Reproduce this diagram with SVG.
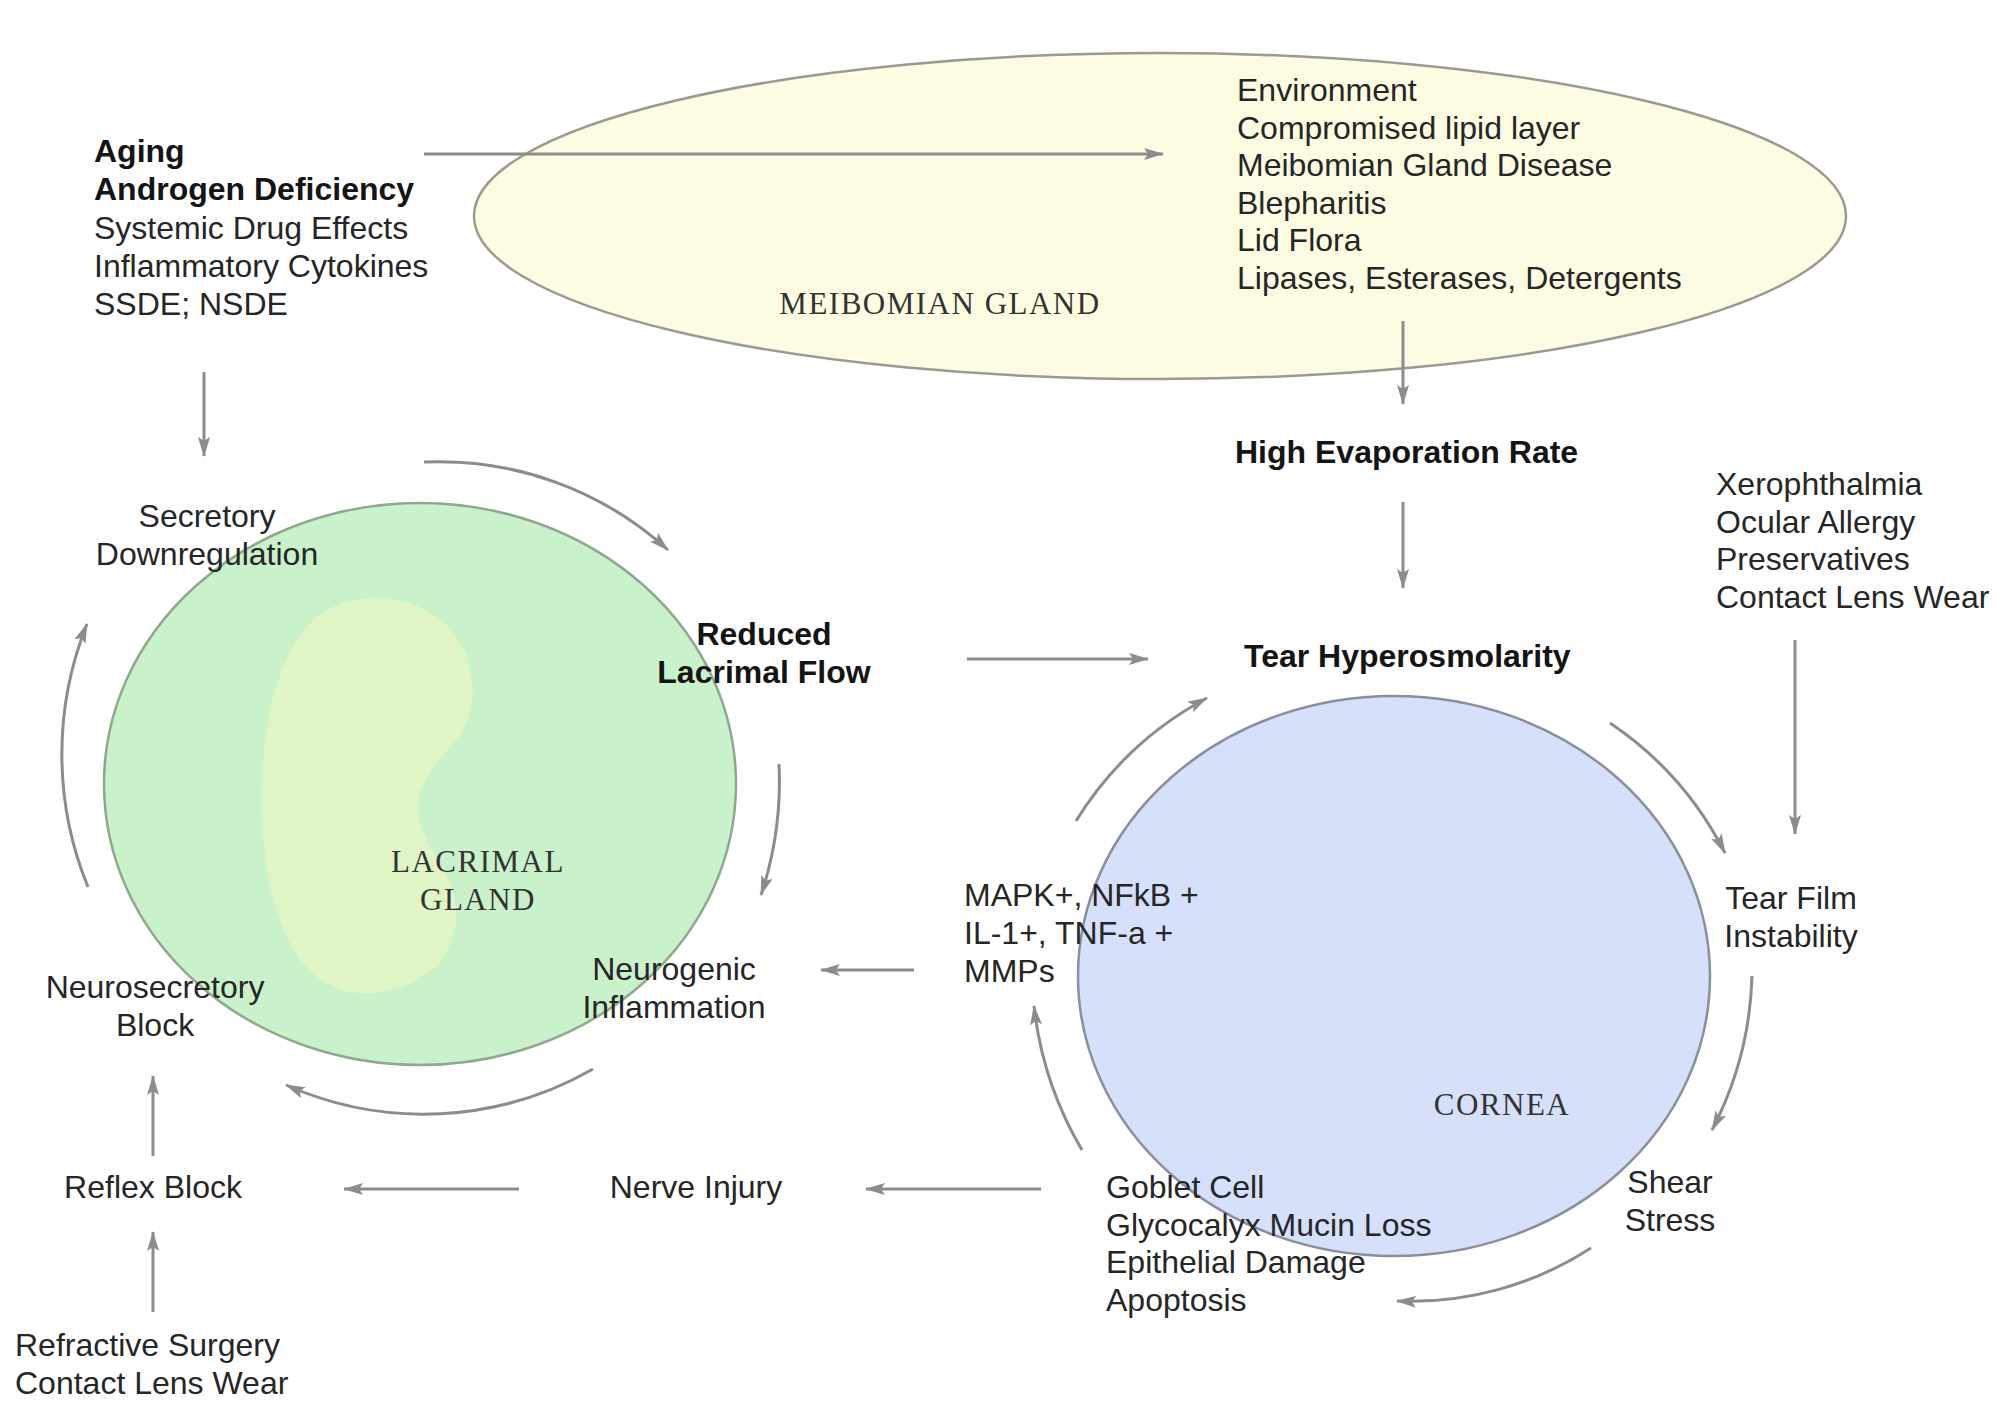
<svg xmlns="http://www.w3.org/2000/svg" width="1996" height="1403" viewBox="0 0 1996 1403">
<defs>
<style>
.t{font-family:"Liberation Sans",Arial,sans-serif;font-size:32px;fill:#262626}
.b{font-weight:bold;fill:#141414}
.s{font-family:"Liberation Serif","Times New Roman",serif;font-size:31px;letter-spacing:1.5px;fill:#333}
.c{fill:none;stroke:#8c8c8c;stroke-width:3;marker-end:url(#ah)}
.m{text-anchor:middle}
</style>
<marker id="ah" viewBox="0 0 20 12" refX="19" refY="6" markerWidth="20" markerHeight="12" markerUnits="userSpaceOnUse" orient="auto">
<path d="M0,0 L20,6 L0,12 L4,6 Z" fill="#8c8c8c"/>
</marker>
</defs>
<rect width="1996" height="1403" fill="#ffffff"/>

<g id="meibomian-gland">
<ellipse cx="1160" cy="216" rx="686" ry="163" fill="#fdfbe2" stroke="#9a9a90" stroke-width="2.5"/>
<text class="s" x="940" y="314" text-anchor="middle">MEIBOMIAN GLAND</text>
<text class="t"><tspan x="1237" y="101">Environment</tspan><tspan x="1237" y="139">Compromised lipid layer</tspan><tspan x="1237" y="176">Meibomian Gland Disease</tspan><tspan x="1237" y="214">Blepharitis</tspan><tspan x="1237" y="251">Lid Flora</tspan><tspan x="1237" y="289">Lipases, Esterases, Detergents</tspan></text>
</g>

<g id="lacrimal-gland">
<ellipse cx="420" cy="784" rx="316" ry="281" fill="#c9f1ca" stroke="#8fa88f" stroke-width="2.5"/>
<path d="M372,598 C445,598 478,650 472,702 C467,748 422,762 418,802 C414,846 462,872 456,922 C450,975 400,995 360,993 C300,990 262,920 262,800 C262,680 298,598 372,598 Z" fill="#e0f5c6"/>
<text class="s m"><tspan x="478" y="872">LACRIMAL</tspan><tspan x="478" y="910">GLAND</tspan></text>
</g>

<g id="cornea">
<ellipse cx="1394" cy="976" rx="316" ry="280" fill="#d6e0fa" stroke="#8a8f9c" stroke-width="2.5"/>
<text class="s m" x="1502" y="1115">CORNEA</text>
</g>

<g id="aging">
<text class="t"><tspan class="b" x="94" y="162">Aging</tspan><tspan class="b" x="94" y="200">Androgen Deficiency</tspan><tspan x="94" y="239">Systemic Drug Effects</tspan><tspan x="94" y="277">Inflammatory Cytokines</tspan><tspan x="94" y="315">SSDE; NSDE</tspan></text>
</g>

<g id="high-evaporation">
<text class="t b" x="1235" y="463">High Evaporation Rate</text>
</g>

<g id="tear-hyperosmolarity">
<text class="t b" x="1244" y="667">Tear Hyperosmolarity</text>
</g>

<g id="xerophthalmia">
<text class="t"><tspan x="1716" y="495">Xerophthalmia</tspan><tspan x="1716" y="533">Ocular Allergy</tspan><tspan x="1716" y="570">Preservatives</tspan><tspan x="1716" y="608">Contact Lens Wear</tspan></text>
</g>

<g id="secretory-downregulation">
<text class="t m"><tspan x="207" y="527">Secretory</tspan><tspan x="207" y="565">Downregulation</tspan></text>
</g>

<g id="reduced-lacrimal-flow">
<text class="t b m"><tspan x="764" y="645">Reduced</tspan><tspan x="764" y="683">Lacrimal Flow</tspan></text>
</g>

<g id="neurogenic-inflammation">
<text class="t m"><tspan x="674" y="980">Neurogenic</tspan><tspan x="674" y="1018">Inflammation</tspan></text>
</g>

<g id="neurosecretory-block">
<text class="t m"><tspan x="155" y="998">Neurosecretory</tspan><tspan x="155" y="1036">Block</tspan></text>
</g>

<g id="mapk">
<text class="t"><tspan x="964" y="906">MAPK+, NFkB +</tspan><tspan x="964" y="944">IL-1+, TNF-a +</tspan><tspan x="964" y="982">MMPs</tspan></text>
</g>

<g id="tear-film-instability">
<text class="t m"><tspan x="1791" y="909">Tear Film</tspan><tspan x="1791" y="947">Instability</tspan></text>
</g>

<g id="shear-stress">
<text class="t m"><tspan x="1670" y="1193">Shear</tspan><tspan x="1670" y="1231">Stress</tspan></text>
</g>

<g id="goblet-cell">
<text class="t"><tspan x="1106" y="1198">Goblet Cell</tspan><tspan x="1106" y="1236">Glycocalyx Mucin Loss</tspan><tspan x="1106" y="1273">Epithelial Damage</tspan><tspan x="1106" y="1311">Apoptosis</tspan></text>
</g>

<g id="nerve-injury">
<text class="t m" x="696" y="1198">Nerve Injury</text>
</g>

<g id="reflex-block">
<text class="t m" x="153" y="1198">Reflex Block</text>
</g>

<g id="refractive-surgery">
<text class="t"><tspan x="15" y="1356">Refractive Surgery</tspan><tspan x="15" y="1394">Contact Lens Wear</tspan></text>
</g>

<g id="connectors">
<path class="c" d="M424,154 L1163,154"/>
<path class="c" d="M1403,321 L1403,404"/>
<path class="c" d="M1403,502 L1403,588"/>
<path class="c" d="M1795,640 L1795,834"/>
<path class="c" d="M204,372 L204,456"/>
<path class="c" d="M967,659 L1148,659"/>
<path class="c" d="M914,970 L821,970"/>
<path class="c" d="M1041,1189 L866,1189"/>
<path class="c" d="M519,1189 L344,1189"/>
<path class="c" d="M153,1156 L153,1076"/>
<path class="c" d="M153,1312 L153,1232"/>
<path class="c" d="M424,462 A340,340 0 0 1 668,550"/>
<path class="c" d="M779,764 A360,360 0 0 1 761,895"/>
<path class="c" d="M593,1069 A340,340 0 0 1 286,1085"/>
<path class="c" d="M88,887 A350,350 0 0 1 87,624"/>
<path class="c" d="M1076,821 A345,345 0 0 1 1207,698"/>
<path class="c" d="M1610,723 A345,345 0 0 1 1725,853"/>
<path class="c" d="M1752,976 A355,355 0 0 1 1712,1130"/>
<path class="c" d="M1591,1248 A330,330 0 0 1 1397,1301"/>
<path class="c" d="M1082,1150 A360,360 0 0 1 1034,1006"/>
</g>
</svg>
